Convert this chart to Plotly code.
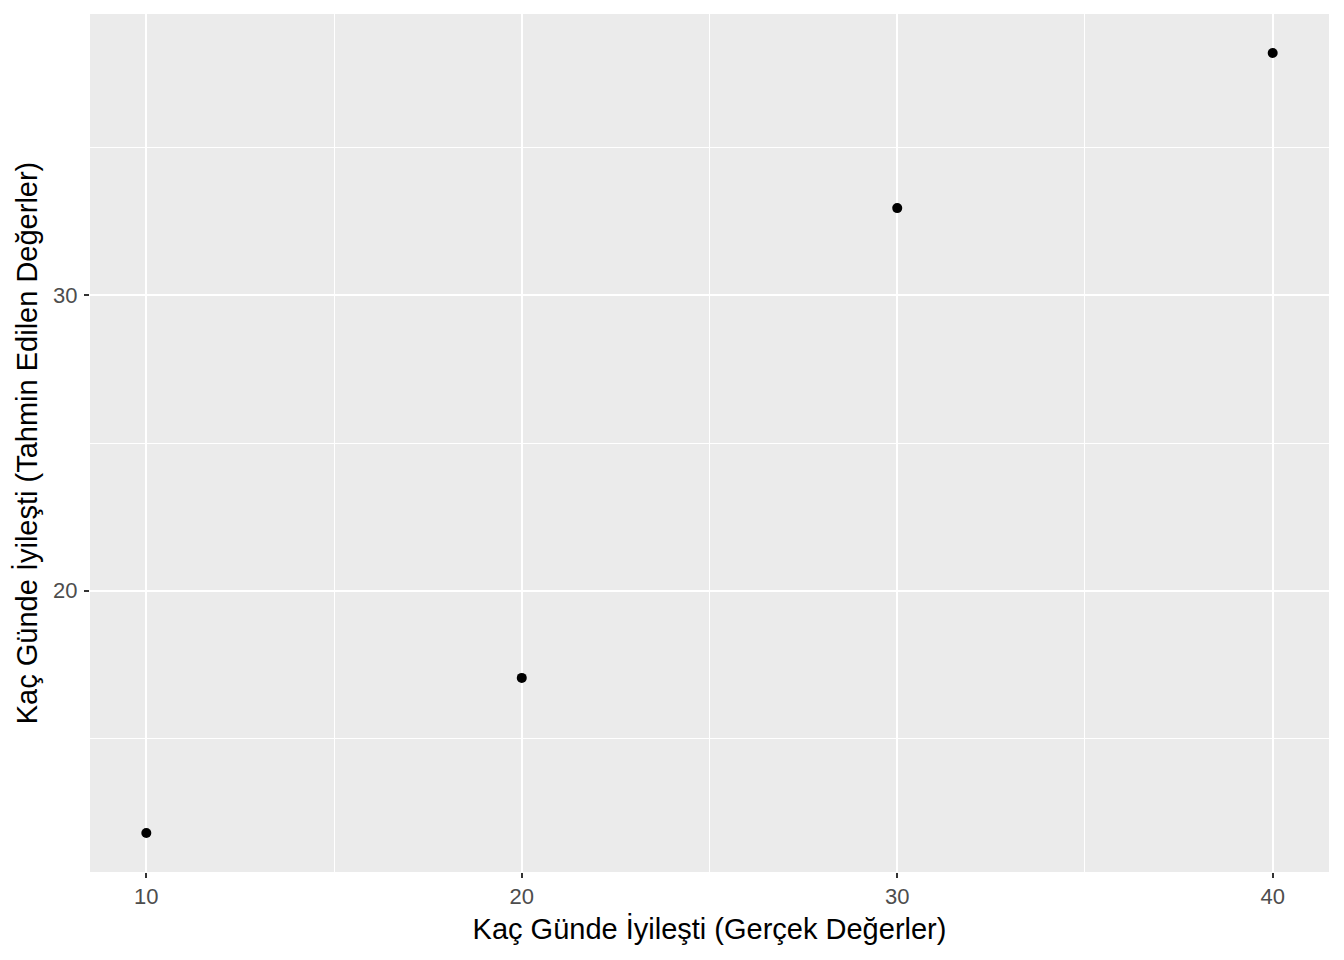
import plotly.graph_objects as go

actual = [10, 20, 30, 40]
predicted = [11.8, 17.05, 32.95, 38.2]
x_ticks = [10, 20, 30, 40]
y_ticks = [20, 30]
x_title = "Kaç Günde İyileşti (Gerçek Değerler)"
y_title = "Kaç Günde İyileşti (Tahmin Edilen Değerler)"

def expand(vals, f=0.05):
    lo, hi = min(vals), max(vals)
    d = (hi - lo) * f
    return [lo - d, hi + d]

FONT = "Liberation Sans, Arial, sans-serif"

fig = go.Figure(go.Scatter(
    x=actual, y=predicted, mode="markers",
    marker=dict(color="black", size=10),
    hoverinfo="x+y",
))

axis_common = dict(
    showgrid=True, gridcolor="white", gridwidth=2,
    zeroline=False, showline=False,
    ticks="outside", ticklen=5, tickwidth=2, tickcolor="#333333",
    tickfont=dict(family=FONT, size=22, color="#4D4D4D"),
    title_font=dict(family=FONT, size=29, color="black"),
    minor=dict(showgrid=True, gridcolor="white", gridwidth=1, ticks=""),
)

fig.update_xaxes(**axis_common, range=expand(actual), tickvals=x_ticks,
                 minor_tickvals=[15, 25, 35], title_text=x_title, title_standoff=10)
fig.update_yaxes(**axis_common, range=expand(predicted), tickvals=y_ticks,
                 minor_tickvals=[15, 25, 35], title_text=y_title, title_standoff=6,
                 ticklabelstandoff=2)

fig.update_layout(
    width=1336, height=952,
    margin=dict(l=82, r=15, t=6, b=88),
    plot_bgcolor="#EBEBEB", paper_bgcolor="white",
    showlegend=False,
    font=dict(family=FONT),
)

fig.write_html("out.html")
